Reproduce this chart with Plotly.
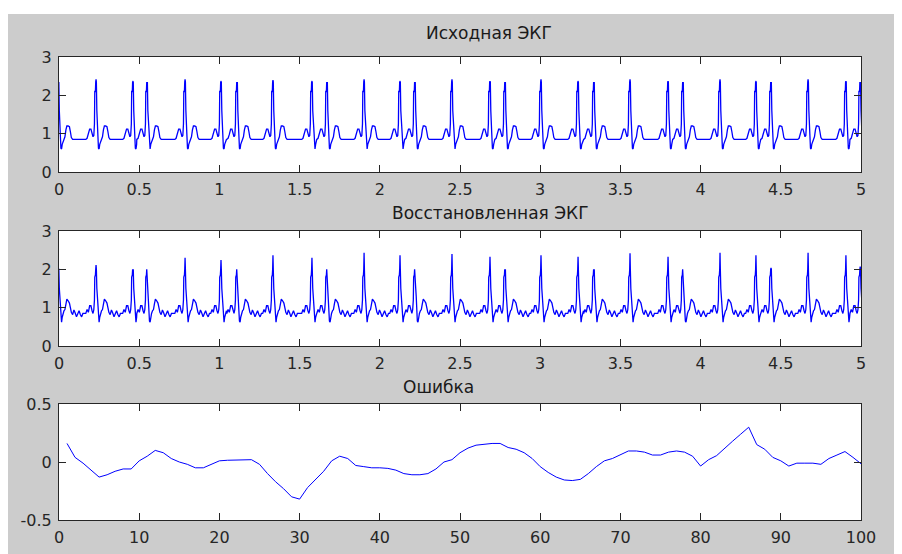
import plotly.graph_objects as go

# ---------------- DATA ----------------
# R-peak times (s) and heights of the source ECG, three beat kinds per cycle
orig_A_t = [0.231, 0.786, 1.334, 1.902, 2.450, 3.005, 3.560, 4.121, 4.670]
orig_A_v = [2.42, 2.42, 2.40, 2.42, 2.42, 2.42, 2.42, 2.42, 2.42]
orig_B_t = [0.461, 1.010, 1.577, 2.126, 2.687, 3.236, 3.797, 4.345, 4.906]
orig_B_v = [2.36, 2.36, 2.36, 2.36, 2.37, 2.36, 2.37, 2.36, 2.37]
orig_C_t = [-0.003, 0.549, 1.110, 1.671, 2.219, 2.781, 3.335, 3.890, 4.439, 4.995]
orig_C_v = [2.22, 2.20, 2.20, 2.20, 2.20, 2.20, 2.20, 2.20, 2.20, 2.21]

# reconstructed ECG peak heights (same beat times)
rec_A_v = [2.11, 2.30, 2.37, 2.43, 2.40, 2.37, 2.42, 2.43, 2.43]
rec_B_v = [1.96, 2.24, 2.30, 2.37, 2.33, 2.33, 2.33, 2.37, 2.37]
rec_C_v = [2.02, 1.83, 1.77, 1.83, 1.87, 1.91, 1.96, 1.81, 2.04, 2.07]

# beat shape of the source ECG around an R peak (offset s, value); None = R height
orig_shape_off = [-0.064, -0.056, -0.048, -0.040, -0.032, -0.025, -0.019, -0.014, -0.010,
                  -0.008, -0.004, -0.002, 0.000, 0.002, 0.005, 0.008, 0.011, 0.015, 0.019,
                  0.023, 0.028, 0.034, 0.040, 0.046, 0.052, 0.060, 0.068, 0.074, 0.080,
                  0.088]
orig_shape_val = [0.85, 0.88, 0.98, 1.12, 1.12, 1.00, 0.92, 0.95, 1.25,
                  2.10, 2.10, 2.35, None, 2.35, 1.60, 1.40, 1.00, 0.62, 0.60,
                  0.72, 0.80, 0.85, 0.92, 1.10, 1.20, 1.20, 1.18, 1.05, 0.90,
                  0.85]

# beat shape of the reconstructed ECG (noisier baseline)
rec_shape_off = [-0.064, -0.056, -0.048, -0.040, -0.032, -0.025, -0.019, -0.014, -0.010,
                 -0.008, -0.004, -0.002, 0.000, 0.002, 0.005, 0.008, 0.011, 0.015, 0.019,
                 0.023, 0.028, 0.034, 0.040, 0.046, 0.052, 0.060, 0.068, 0.074, 0.080,
                 0.088, 0.096, 0.104, 0.112, 0.120, 0.128, 0.136, 0.144, 0.152]
rec_shape_val = [0.85, 0.95, 0.88, 1.05, 1.05, 0.92, 0.85, 0.95, 1.20,
                 1.80, 1.85, 2.00, None, 2.00, 1.50, 1.30, 0.95, 0.65, 0.62,
                 0.75, 0.85, 0.92, 0.95, 1.10, 1.22, 1.18, 1.12, 1.00, 0.88,
                 0.82, 0.94, 0.86, 0.76, 0.84, 0.92, 0.82, 0.76, 0.85]

# error curve
err_idx = list(range(1, 101))
err_val = [0.16, 0.04, -0.01, -0.07, -0.13, -0.11, -0.08, -0.06, -0.06, 0.01,
           0.05, 0.10, 0.08, 0.03, 0.00, -0.02, -0.05, -0.05, -0.02, 0.01,
           0.015, 0.015, 0.02, 0.02, -0.02, -0.10, -0.17, -0.23, -0.30, -0.32,
           -0.22, -0.15, -0.08, 0.01, 0.05, 0.03, -0.03, -0.04, -0.05, -0.05,
           -0.055, -0.07, -0.10, -0.11, -0.11, -0.10, -0.06, 0.00, 0.02, 0.08,
           0.12, 0.145, 0.155, 0.16, 0.16, 0.125, 0.11, 0.08, 0.03, -0.04,
           -0.09, -0.13, -0.155, -0.16, -0.15, -0.10, -0.04, 0.01, 0.03, 0.06,
           0.095, 0.095, 0.085, 0.06, 0.06, 0.085, 0.095, 0.085, 0.05, -0.035,
           0.02, 0.055, 0.12, 0.18, 0.24, 0.30, 0.15, 0.11, 0.04, 0.01,
           -0.035, -0.01, -0.01, -0.01, -0.02, 0.03, 0.06, 0.09, 0.04, -0.015]

titles = ["Исходная ЭКГ", "Восстановленная ЭКГ", "Ошибка"]
ecg_ticks = [0, 0.5, 1, 1.5, 2, 2.5, 3, 3.5, 4, 4.5, 5]
ecg_ticktext = ["0", "0.5", "1", "1.5", "2", "2.5", "3", "3.5", "4", "4.5", "5"]
err_xticks = [0, 10, 20, 30, 40, 50, 60, 70, 80, 90, 100]
err_yticks = [-0.5, 0, 0.5]
err_yticktext = ["-0.5", "0", "0.5"]


def assemble(times, heights, offs, vals):
    beats = sorted(zip(times, heights))
    xs, ys = [], []
    for i, (tr, h) in enumerate(beats):
        limit = beats[i + 1][0] + offs[0] if i + 1 < len(beats) else 1e9
        for o, v in zip(offs, vals):
            if tr + o >= limit:
                break
            xs.append(tr + o)
            ys.append(h if v is None else v)
    return xs, ys


t1, y1 = assemble(orig_A_t + orig_B_t + orig_C_t, orig_A_v + orig_B_v + orig_C_v,
                  orig_shape_off, orig_shape_val)
t2, y2 = assemble(orig_A_t + orig_B_t + orig_C_t, rec_A_v + rec_B_v + rec_C_v,
                  rec_shape_off, rec_shape_val)

W, H = 902, 554
OFF = 8  # page body margin: reference pixel coords -> figure coords
BLUE = "#0000ff"
AX = "#262626"
FONT = "DejaVu Sans"

fig = go.Figure()
fig.add_trace(go.Scatter(x=t1, y=y1, mode="lines", line=dict(color=BLUE, width=1.3),
                         xaxis="x", yaxis="y", hoverinfo="skip"))
fig.add_trace(go.Scatter(x=t2, y=y2, mode="lines", line=dict(color=BLUE, width=1.3),
                         xaxis="x2", yaxis="y2", hoverinfo="skip"))
fig.add_trace(go.Scatter(x=err_idx, y=err_val, mode="lines", line=dict(color=BLUE, width=1),
                         xaxis="x3", yaxis="y3", hoverinfo="skip"))

xd = [(59 - OFF) / W, (861 - OFF) / W]
def yd(top, bot):
    return [1 - (bot - OFF) / H, 1 - (top - OFF) / H]

def px(x):
    return (x - OFF) / W

def py(y):
    return 1 - (y - OFF) / H

common = dict(showline=True, linecolor=AX, linewidth=1, mirror="ticks", ticks="inside",
              ticklen=7, tickcolor=AX, showgrid=False, zeroline=False, automargin=False,
              tickfont=dict(family=FONT, size=16, color=AX), fixedrange=True)

tfont = dict(family=FONT, size=17, color="#1a1a1a")

layout = dict(
    width=W, height=H, margin=dict(l=0, r=0, t=0, b=0),
    paper_bgcolor="#cccccc", plot_bgcolor="white", showlegend=False,
    xaxis=dict(domain=xd, anchor="y", range=[0, 5], tickvals=ecg_ticks, ticktext=ecg_ticktext,
               ticklabelstandoff=3, **common),
    yaxis=dict(domain=yd(57, 172), anchor="x", range=[0, 3], tickvals=[0, 1, 2, 3],
               ticklabelstandoff=3, **common),
    xaxis2=dict(domain=xd, anchor="y2", range=[0, 5], tickvals=ecg_ticks, ticktext=ecg_ticktext,
                ticklabelstandoff=3, **common),
    yaxis2=dict(domain=yd(231, 346), anchor="x2", range=[0, 3], tickvals=[0, 1, 2, 3],
                ticklabelstandoff=3, **common),
    xaxis3=dict(domain=xd, anchor="y3", range=[0, 100], tickvals=err_xticks,
                ticklabelstandoff=3, **common),
    yaxis3=dict(domain=yd(404, 520), anchor="x3", range=[-0.5, 0.5], tickvals=err_yticks,
                ticktext=err_yticktext, ticklabelstandoff=3, **common),
    shapes=[
        dict(type="rect", xref="paper", yref="paper", x0=0, x1=1, y0=py(14), y1=1,
             fillcolor="white", line=dict(width=0), layer="below"),
    ],
    annotations=[
        dict(text=titles[0], xref="paper", yref="paper", x=px(489), y=py(33),
             xanchor="center", yanchor="middle", showarrow=False, font=tfont),
        dict(text=titles[1], xref="paper", yref="paper", x=px(490), y=py(213),
             xanchor="center", yanchor="middle", showarrow=False, font=tfont),
        dict(text=titles[2], xref="paper", yref="paper", x=px(438), y=py(387),
             xanchor="center", yanchor="middle", showarrow=False, font=tfont),
    ],
)
fig.update_layout(**layout)
fig.write_html("out.html", config={"displayModeBar": False})
